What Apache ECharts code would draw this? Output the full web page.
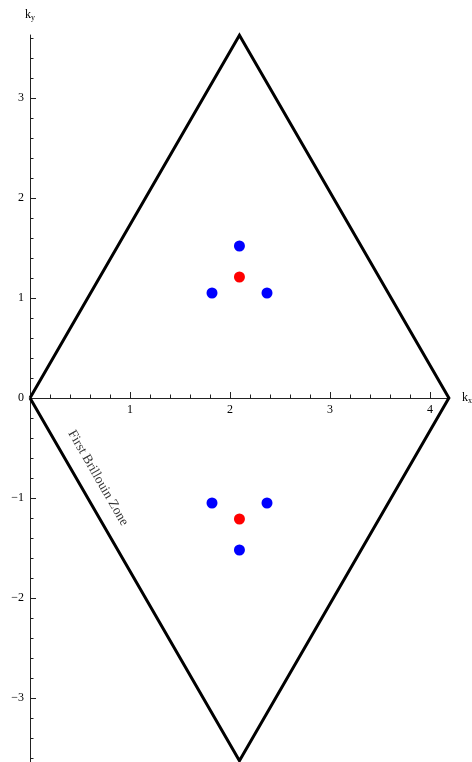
<!DOCTYPE html>
<html>
<head>
<meta charset="utf-8">
<script src="https://cdn.jsdelivr.net/npm/echarts@6/dist/echarts.min.js"></script>
<style>
  html, body { margin: 0; padding: 0; background: #fff; overflow: hidden; }
  #chart { width: 472px; height: 762px; }
</style>
</head>
<body>
<div id="chart"></div>
<script>
// Hexagonal-lattice reciprocal cell (first Brillouin zone drawn as a rhombus)
const zoneVertices = [[0, 0], [2.0944, 3.6276], [4.1888, 0], [2.0944, -3.6276], [0, 0]];
// Dirac points K and K'
const redPoints = [[2.0944, 1.21], [2.0944, -1.21]];
// Neighbouring points around each Dirac point
const bluePoints = [
  [2.0944, 1.52], [1.82, 1.05], [2.37, 1.05],
  [2.0944, -1.52], [1.82, -1.05], [2.37, -1.05]
];
// Tick values
const xMajorTicks = [1, 2, 3, 4];
const xMinorTicks = [0.2, 0.4, 0.6, 0.8, 1.2, 1.4, 1.6, 1.8, 2.2, 2.4, 2.6, 2.8, 3.2, 3.4, 3.6, 3.8];
const yMajorTicks = [-3, -2, -1, 0, 1, 2, 3];
const yMinorTicks = [-3.6, -3.4, -3.2, -2.8, -2.6, -2.4, -2.2, -1.8, -1.6, -1.4, -1.2, -0.8, -0.6, -0.4, -0.2,
  0.2, 0.4, 0.6, 0.8, 1.2, 1.4, 1.6, 1.8, 2.2, 2.4, 2.6, 2.8, 3.2, 3.4, 3.6];
// Annotation along the lower-left edge
const zoneLabelPos = [[0.68, -0.80]];
const zoneLabelText = 'First Brillouin Zone';

const X_MIN = 0, X_MAX = 4.1888, Y_MIN = -3.64, Y_MAX = 3.63;
const FONT = 'Liberation Serif';
const AXIS_COLOR = '#222';
const PX_PER_UNIT = 100;
const LEFT = 30, TOP = 35;
const PLOT_W = (X_MAX - X_MIN) * PX_PER_UNIT;
const PLOT_H = (Y_MAX - Y_MIN) * PX_PER_UNIT;
const UPPER_H = Y_MAX * PX_PER_UNIT;   // k_y >= 0 part, its bottom edge is the k_x axis

const fmtNum = v => String(v).replace('-', '\u2212');
const subName = (main, sub) => '{k|' + main + '}{s|' + sub + '}';
const nameRich = {
  k: { fontFamily: FONT, fontSize: 12, color: '#000' },
  s: { fontFamily: FONT, fontSize: 8, color: '#000', padding: [6, 0, 0, 0] }
};

const chart = echarts.init(document.getElementById('chart'), null, { renderer: 'canvas' });
chart.setOption({
  animation: false,
  backgroundColor: '#fff',
  grid: [
    // plotting area with the k_y axis
    { left: LEFT, top: TOP, width: PLOT_W, height: PLOT_H, outerBoundsMode: 'none', containLabel: false },
    // the k_x axis runs along k_y = 0
    { left: LEFT, top: TOP, width: PLOT_W, height: UPPER_H, outerBoundsMode: 'none', containLabel: false }
  ],
  xAxis: [
    { gridIndex: 0, type: 'value', min: X_MIN, max: X_MAX, show: false, splitLine: { show: false } },
    {
      gridIndex: 1, type: 'value', min: X_MIN, max: X_MAX, position: 'bottom',
      splitLine: { show: false },
      name: subName('k', 'x'), nameLocation: 'end', nameGap: 13,
      nameTextStyle: { rich: nameRich },
      axisLine: { show: true, onZero: false, lineStyle: { color: AXIS_COLOR, width: 1 } },
      axisTick: { show: true, inside: true, length: 6, customValues: xMajorTicks, lineStyle: { color: AXIS_COLOR } },
      axisLabel: {
        show: true, customValues: xMajorTicks, margin: 6,
        fontFamily: FONT, fontSize: 12, color: '#000', formatter: fmtNum
      }
    },
    {
      gridIndex: 1, type: 'value', min: X_MIN, max: X_MAX, position: 'bottom',
      splitLine: { show: false },
      axisLine: { show: false, onZero: false },
      axisTick: { show: true, inside: true, length: 3.5, customValues: xMinorTicks, lineStyle: { color: AXIS_COLOR } },
      axisLabel: { show: false }
    }
  ],
  yAxis: [
    {
      gridIndex: 0, type: 'value', min: Y_MIN, max: Y_MAX, position: 'left',
      splitLine: { show: false },
      name: subName('k', 'y'), nameLocation: 'end', nameGap: 13,
      nameTextStyle: { align: 'center', rich: nameRich },
      axisLine: { show: true, onZero: false, lineStyle: { color: AXIS_COLOR, width: 1 } },
      axisTick: { show: true, inside: true, length: 6, customValues: yMajorTicks, lineStyle: { color: AXIS_COLOR } },
      axisLabel: {
        show: true, customValues: yMajorTicks, margin: 6,
        fontFamily: FONT, fontSize: 12, color: '#000', formatter: fmtNum
      }
    },
    {
      gridIndex: 0, type: 'value', min: Y_MIN, max: Y_MAX, position: 'left',
      splitLine: { show: false },
      axisLine: { show: false, onZero: false },
      axisTick: { show: true, inside: true, length: 3.5, customValues: yMinorTicks, lineStyle: { color: AXIS_COLOR } },
      axisLabel: { show: false }
    },
    { gridIndex: 1, type: 'value', min: 0, max: Y_MAX, show: false, splitLine: { show: false } }
  ],
  series: [
    {
      name: 'zone', type: 'line', xAxisIndex: 0, yAxisIndex: 0,
      data: zoneVertices, symbol: 'none', smooth: false, clip: false,
      lineStyle: { color: '#000', width: 3, join: 'miter' }, z: 3
    },
    {
      name: 'neighbours', type: 'scatter', xAxisIndex: 0, yAxisIndex: 0,
      data: bluePoints, symbol: 'circle', symbolSize: 11,
      itemStyle: { color: '#0000ff', opacity: 1 }, z: 4
    },
    {
      name: 'dirac', type: 'scatter', xAxisIndex: 0, yAxisIndex: 0,
      data: redPoints, symbol: 'circle', symbolSize: 11,
      itemStyle: { color: '#ff0000', opacity: 1 }, z: 4
    },
    {
      name: 'zoneLabel', type: 'scatter', xAxisIndex: 0, yAxisIndex: 0,
      data: zoneLabelPos, symbolSize: 0, silent: true,
      label: {
        show: true, position: 'inside', rotate: -60,
        formatter: zoneLabelText,
        fontFamily: FONT, fontSize: 13.5, color: '#000'
      }, z: 5
    }
  ]
});
</script>
</body>
</html>
